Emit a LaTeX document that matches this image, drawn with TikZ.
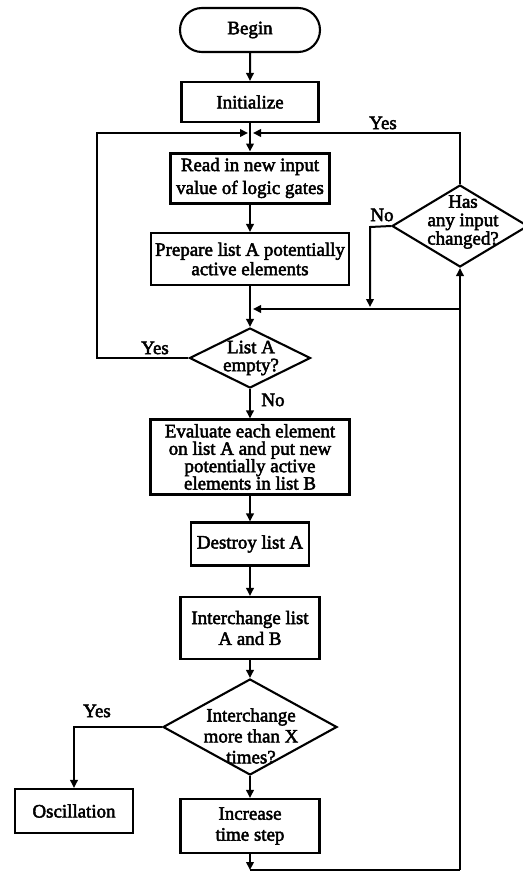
\documentclass[tikz,border=0pt]{standalone}
\usepackage{fontspec}
\setmainfont[FakeBold=2.5]{Liberation Serif}
\usetikzlibrary{shapes.misc,shapes.geometric,arrows.meta}
\begin{document}
\begin{tikzpicture}[x=1bp,y=-1bp,
  box/.style={draw,line width=2.1bp,rectangle,inner sep=0pt,align=center},
  dia/.style={draw,line width=2.1bp,diamond,inner sep=0pt},
  txt/.style={align=center,inner sep=0pt},
  arr/.style={line width=2bp,-{Triangle[length=8bp,width=7.5bp]}},
  ln/.style={line width=2bp},
  lab/.style={inner sep=0pt},
  every node/.style={font=\fontsize{19}{19}\selectfont}
]
\useasboundingbox (0,0) rectangle (523,872);
\node[box, rounded rectangle, minimum width=140bp, minimum height=44bp] (begin) at (250,30) {Begin};
\node[box, minimum width=137bp, minimum height=40bp] (init) at (250,102) {Initialize};
\node[box, line width=3bp, minimum width=159bp, minimum height=50bp, font=\fontsize{19}{23}\selectfont] (read) at (250,178) {Read in new input\\value of logic gates};
\node[box, minimum width=198bp, minimum height=52bp, font=\fontsize{19}{19.5}\selectfont] (prep) at (250,259) {Prepare list A potentially\\active elements};
\node[dia, minimum width=121bp, minimum height=60bp] (empty) at (250,358) {};
\node[txt, font=\fontsize{19}{18}\selectfont] (emptyt) at (251,358) {List A\\empty?};
\node[box, minimum width=199bp, minimum height=75bp, font=\fontsize{19}{17.5}\selectfont] (eval) at (250,457) {Evaluate each element\\on list A and put new\\potentially active\\elements in list B};
\node[box, minimum width=118bp, minimum height=43bp] (destroy) at (250,544) {Destroy list A};
\node[box, minimum width=139bp, minimum height=62bp, font=\fontsize{19}{21}\selectfont] (inter) at (250,628) {Interchange list\\A and B};
\node[dia, minimum width=174bp, minimum height=96bp] (more) at (250,727) {};
\node[txt, font=\fontsize{19}{21}\selectfont] (moret) at (251,736) {Interchange\\more than X\\times?};
\node[box, minimum width=118bp, minimum height=44bp] (osc) at (74,811) {Oscillation};
\node[box, minimum width=139bp, minimum height=54bp, font=\fontsize{19}{21}\selectfont] (inc) at (250,826) {Increase\\time step};
\node[dia, minimum width=136bp, minimum height=82bp] (has) at (460,226) {};
\node[txt, font=\fontsize{19}{18.5}\selectfont] (hast) at (463,222) {Has\\any input\\changed?};

\coordinate (J) at (250,133);
\coordinate (JL) at (97,133);
\coordinate (JR) at (460,133);
\coordinate (M) at (250,309);
\coordinate (MR) at (460,309);
\coordinate (N) at (370,227);
\coordinate (NB) at (370,307);
\coordinate (B) at (250,870);
\coordinate (BR) at (460,870);

\draw[arr] (begin) -- (init);
\draw[arr] (init) -- (read);
\draw[arr] (empty.west) -- (empty.west -| JL) -- (JL) -- ([xshift=-2bp]J);
\draw[arr] (has.north) -- (JR) -- ([xshift=3bp]J);
\draw[arr] (read) -- (prep);
\draw[arr] (prep) -- (empty);
\draw[arr] (has.west) -- (N) -- (NB);
\draw[arr] (MR) -- ([xshift=3bp]M);
\draw[arr] (BR) -- (has.south);
\draw[arr] (empty) -- (eval);
\draw[arr] (eval) -- (destroy);
\draw[arr] (destroy) -- (inter);
\draw[arr] (inter) -- (more);
\draw[arr] (more) -- (inc);
\draw[arr] (more.west) -- (more.west -| osc) -- (osc);
\draw[arr] (inc) -- (B);
\draw[ln] (B) -- (BR);

\node[lab] (y1) at (383,123) {Yes};
\node[lab] (n1) at (382,215) {No};
\node[lab] (y2) at (155,348) {Yes};
\node[lab] (n2) at (273,400) {No};
\node[lab] (y3) at (97,711) {Yes};
\end{tikzpicture}
\end{document}
